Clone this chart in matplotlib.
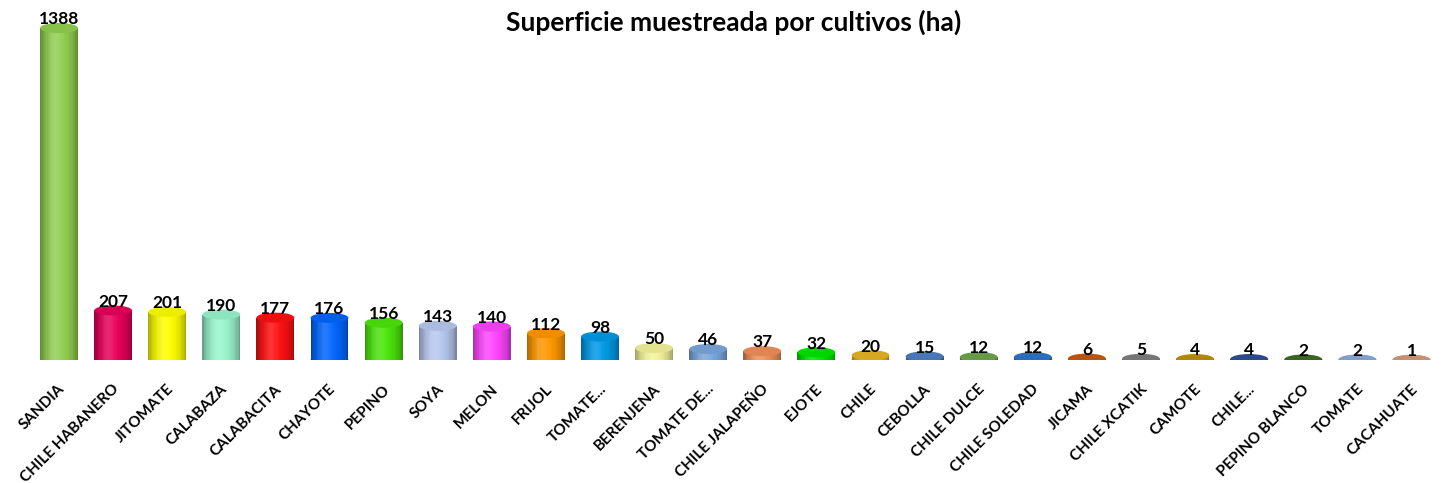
#Cylinder-style bar chart of sampled area per crop
import numpy as np
from matplotlib import pyplot as plt
from matplotlib.patches import Ellipse
from matplotlib.colors import to_rgb

plt.rcParams['font.family'] = ['Lato', 'DejaVu Sans']

cultivos = ['SANDIA', 'CHILE HABANERO', 'JITOMATE', 'CALABAZA', 'CALABACITA', 'CHAYOTE',
            'PEPINO', 'SOYA', 'MELON', 'FRIJOL', 'TOMATE...', 'BERENJENA', 'TOMATE DE...',
            'CHILE JALAPEÑO', 'EJOTE', 'CHILE', 'CEBOLLA', 'CHILE DULCE', 'CHILE SOLEDAD',
            'JICAMA', 'CHILE XCATIK', 'CAMOTE', 'CHILE...', 'PEPINO BLANCO', 'TOMATE',
            'CACAHUATE']
superficie = [1388, 207, 201, 190, 177, 176, 156, 143, 140, 112, 98, 50, 46, 37, 32, 20,
              15, 12, 12, 6, 5, 4, 4, 2, 2, 1]
colores = ['#92d050', '#e8005a', '#ffff00', '#99f5cc', '#ff1010', '#0066ff', '#4be60b',
           '#b8c8f0', '#ff44ff', '#ff9900', '#0099e6', '#f4f49a', '#7aa8dc', '#f0905a',
           '#00e600', '#e6b422', '#4f7fc4', '#6fa64a', '#2e75c6', '#c55a11', '#7f7f7f',
           '#bf9000', '#2f4e94', '#3e6b25', '#8eaadb', '#d79b7c']


def shade(color, t):
    '''t in [-1, 1] across the cylinder; darker at the edges, highlight left of centre'''
    c = np.array(to_rgb(color))
    light = 0.6 + 0.4 * np.cos(t * np.pi / 2) ** 0.6
    c = c * light
    hl = 0.15 * np.exp(-((t + 0.25) / 0.35) ** 2)
    return tuple(np.clip(c + (1 - c) * hl, 0, 1))


fig = plt.figure(figsize=(14.42, 4.83), dpi=100)
base_px = 360
px_per_unit = 332 / 1388
step = 54.1
ax = fig.add_axes([0, (483 - base_px) / 483, 1, base_px / 483])
ax.set_ylim(0, base_px / px_per_unit)
ax.set_xlim(-59 / step, (1442 - 59) / step)
ax.axis('off')

w = 0.70
eh = 10 / px_per_unit  # ellipse height in data units
strips = 30
offs = (np.arange(strips) + 0.5) / strips * 2 - 1

for i, (v, c) in enumerate(zip(superficie, colores)):
    # bottom cap
    ax.add_patch(Ellipse((i, 0), w, eh, color=shade(c, 0.5), zorder=2, lw=0))
    # body
    ax.bar(i + offs * w / 2, [v] * strips, width=w / strips * 1.05, bottom=0,
           color=[shade(c, t) for t in offs], linewidth=0, zorder=3)
    # top cap
    top = np.array(to_rgb(c))
    ax.add_patch(Ellipse((i, v), w, eh, color=tuple(top * 0.93), zorder=4, lw=0))
    ax.annotate(str(v), (i, v), xytext=(0, 0.5), textcoords='offset points',
                ha='center', va='bottom', fontsize=12.5, fontweight='bold', zorder=5)

for i, lab in enumerate(cultivos):
    ax.text(i - 0.02, -22 / px_per_unit, lab, rotation=45, ha='right', va='top',
            rotation_mode='anchor', fontsize=11, fontweight='bold', clip_on=False)

fig.text(0.509, 0.953, 'Superficie muestreada por cultivos (ha)', ha='center', va='center',
         fontsize=19, fontweight='bold')

fig.savefig('out.png', dpi=100)
